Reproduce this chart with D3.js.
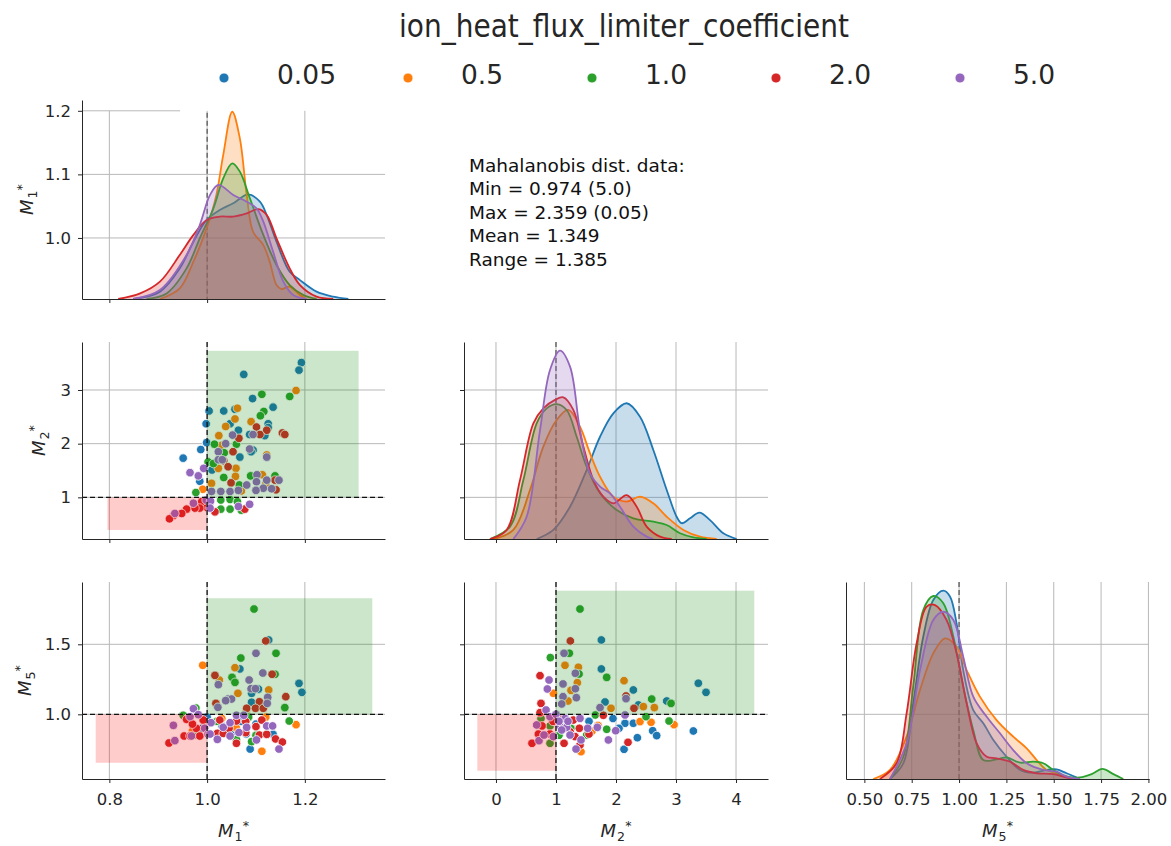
<!DOCTYPE html>
<html>
<head>
<meta charset="utf-8">
<script src="https://cdn.jsdelivr.net/npm/d3@7"></script>
<style>
  body { margin: 0; background: #fff; }
  svg { font-family: "DejaVu Sans", sans-serif; }
</style>
</head>
<body>
<div id="chart"></div>
<script>
// ---- data ----
const groups = ["0.05", "0.5", "1.0", "2.0", "5.0"];
const groupColors = ["#1f77b4", "#ff7f0e", "#2ca02c", "#d62728", "#9467bd"];

const m1Ticks = [0.8, 1.0, 1.2];
const m2Ticks = [0, 1, 2, 3, 4];
const m5Ticks = [0.5, 0.75, 1.0, 1.25, 1.5, 1.75, 2.0];
const m1RowTicks = [1.0, 1.1, 1.2];
const m2RowTicks = [1, 2, 3];
const m5RowTicks = [1.0, 1.5];

const statsLines = ["Mahalanobis dist. data:", "Min = 0.974 (5.0)", "Max = 2.359 (0.05)", "Mean = 1.349", "Range = 1.385"];

// scatter points, one list per group: [x, y]
const m1m2Points = [
  [[1.193,3.51],[1.188,3.37],[1.075,3.29],[1.093,2.84],[1.135,2.68],[1.057,2.64],[1.004,2.61],[1.034,2.61],[0.998,2.37],[1.047,2.37],[1.125,2.37],[1.125,2.30],[1.064,2.25],[1.118,2.15],[1.087,2.17],[0.999,2.02],[0.987,1.89],[1.094,1.88],[0.951,1.73],[1.067,1.75],[1.010,1.51],[0.985,1.30],[1.10,1.40],[1.12,1.20],[1.09,1.85]],
  [[1.182,2.99],[1.062,2.66],[1.057,2.46],[1.038,2.32],[1.090,2.41],[1.024,2.15],[1.030,1.97],[1.122,1.79],[1.023,1.54],[1.059,1.54],[1.058,1.39],[1.113,1.42],[1.009,1.26],[0.991,1.15],[1.07,1.12],[1.12,1.25]],
  [[1.112,2.92],[1.169,2.88],[1.116,2.60],[1.109,2.52],[1.015,1.99],[1.060,1.99],[1.035,1.83],[1.002,1.66],[1.013,1.63],[1.034,1.37],[1.089,1.40],[1.139,1.40],[1.066,1.23],[0.977,1.09],[1.047,0.96],[1.028,0.95],[1.062,0.92],[1.047,0.78],[1.028,0.78],[1.07,0.76]],
  [[1.101,2.31],[1.122,2.25],[1.108,2.17],[1.154,2.20],[1.159,2.17],[1.065,2.10],[1.053,1.85],[1.034,1.68],[1.043,1.57],[1.049,1.27],[1.139,1.32],[1.141,1.14],[0.989,0.92],[1.000,0.81],[0.985,0.80],[0.975,0.80],[1.016,0.73],[0.958,0.78],[0.948,0.70],[0.931,0.66],[0.923,0.60],[1.077,0.78]],
  [[1.052,2.16],[1.094,2.17],[1.038,2.00],[1.087,1.90],[1.023,1.85],[1.122,1.75],[1.023,1.70],[1.031,1.70],[0.993,1.54],[0.965,1.46],[0.982,1.40],[1.102,1.42],[1.122,1.32],[1.147,1.32],[1.101,1.29],[1.081,1.23],[1.132,1.16],[1.115,1.17],[1.100,1.13],[1.009,1.11],[1.028,1.11],[1.047,1.11],[1.064,1.13],[0.998,0.95],[1.007,0.93],[0.972,0.89],[1.006,0.80],[1.064,0.83],[1.087,0.87],[0.934,0.70]]
];

const m1m5Points = [
  [[1.126,1.531],[1.067,1.324],[1.188,1.221],[1.194,1.157],[1.091,1.150],[1.091,1.086],[1.105,1.18],[1.135,0.857],[1.088,0.752],[1.03,0.92],[1.07,0.95],[0.99,0.90],[1.05,0.87],[1.10,0.93],[1.00,0.98],[1.08,0.86]],
  [[0.991,1.35],[1.057,1.333],[1.025,1.245],[1.126,1.174],[1.063,1.15],[1.182,0.926],[1.112,0.736],[1.03,0.97],[1.06,0.90],[1.0,0.93],[0.97,0.88],[1.08,1.02],[1.12,0.98]],
  [[1.096,1.752],[1.141,1.436],[1.069,1.402],[1.139,1.286],[1.051,1.264],[1.057,1.228],[1.159,1.048],[0.977,1.045],[0.951,0.993],[1.168,0.952],[1.091,0.805],[0.98,0.85],[1.04,0.88],[1.06,0.82],[1.02,0.95],[1.10,0.85],[0.96,0.97],[1.085,0.98]],
  [[1.120,1.524],[1.133,1.286],[1.016,1.278],[1.161,1.126],[1.107,1.090],[1.018,1.078],[1.081,1.043],[1.099,1.043],[1.115,1.043],[0.958,0.964],[0.992,0.959],[1.026,0.959],[1.060,0.952],[1.079,0.948],[1.112,0.959],[0.978,0.900],[1.100,0.912],[0.953,0.845],[0.965,0.845],[0.985,0.845],[1.021,0.864],[1.033,0.864],[1.079,0.869],[1.107,0.852],[1.122,0.857],[1.140,0.824],[1.154,0.802],[0.922,0.795],[1.060,0.793],[1.045,0.90],[0.97,0.93]],
  [[1.100,1.436],[1.114,1.295],[1.086,1.245],[1.023,1.212],[1.090,1.183],[1.099,1.183],[1.124,1.121],[1.043,1.109],[1.050,1.109],[1.038,1.098],[1.123,1.078],[1.022,1.050],[0.972,1.040],[0.982,0.998],[0.965,0.983],[1.060,0.993],[1.075,0.993],[1.008,0.940],[0.931,0.921],[0.995,0.900],[1.033,0.907],[1.047,0.940],[1.081,0.907],[1.122,0.917],[1.134,0.917],[0.968,0.845],[1.002,0.859],[1.006,0.859],[1.047,0.845],[1.021,0.821],[1.101,0.817],[0.934,0.812],[1.147,0.752],[1.065,0.87]]
];

const m2m5Points = [
  [[1.756,1.531],[1.756,1.324],[2.289,1.174],[1.817,1.088],[2.845,1.095],[2.373,1.067],[2.15,0.936],[2.289,0.936],[2.611,0.883],[2.678,0.848],[2.356,0.833],[2.134,0.75],[3.372,1.222],[3.5,1.157],[3.289,0.881],[1.55,0.95],[1.95,0.97],[2.05,0.90],[1.70,0.92]],
  [[1.150,1.35],[1.373,1.336],[2.134,1.24],[1.356,1.226],[1.25,1.171],[0.956,1.15],[1.2,1.095],[2.456,1.055],[2.639,1.048],[1.917,1.043],[2.4,0.948],[2.584,0.943],[2.967,0.926],[1.417,0.733],[1.7,0.92],[1.2,0.93],[1.6,0.88]],
  [[1.400,1.752],[1.222,1.436],[0.906,1.405],[1.384,1.288],[1.845,1.264],[2.595,1.109],[2.917,1.078],[2.5,0.983],[1.656,0.995],[2.884,0.952],[1.845,0.893],[0.9,0.917],[0.9,0.793],[1.511,0.852],[1.25,0.90],[1.05,0.85],[0.75,0.97]],
  [[1.239,1.524],[0.734,1.276],[2.167,1.131],[0.75,1.078],[2.3,1.043],[1.789,0.993],[2.2,0.8],[1.55,0.859],[1.389,0.9],[1.134,0.793],[0.6,0.793],[0.734,1.012],[1.039,0.971],[1.289,0.959],[0.767,0.917],[1.234,0.876],[0.706,0.859],[0.9,0.859],[1.317,0.841],[1.4,0.781],[0.95,0.95],[1.15,0.90]],
  [[1.134,1.436],[1.323,1.293],[0.884,1.245],[0.856,1.181],[1.323,1.183],[1.117,1.217],[1.117,1.126],[1.339,1.119],[2.167,1.112],[1.095,1.074],[1.734,1.048],[2.15,0.995],[1.334,0.752],[1.417,0.817],[1.873,0.817],[1.995,0.883],[1.689,0.907],[1.528,0.9],[0.717,0.812],[0.678,0.924],[0.834,1.031],[0.9,0.983],[1.15,0.971],[1.4,0.971],[1.067,0.912],[1.178,0.907],[1.095,0.888],[0.8,0.852],[0.956,0.841],[1.234,0.852],[1.0,1.0],[1.2,0.95],[1.05,0.95]]
];

// KDE curves: [value, density as share of panel height]
const m1Density = [
  [[0.849,0],[0.9035,0.037],[0.944,0.154],[0.972,0.288],[0.999,0.397],[1.026,0.447],[1.0535,0.481],[1.084,0.526],[1.108,0.489],[1.122,0.422],[1.142,0.288],[1.169,0.137],[1.190,0.095],[1.224,0.037],[1.258,0.012],[1.289,0]],
  [[0.9035,0],[0.944,0.054],[0.972,0.188],[0.999,0.355],[1.019,0.523],[1.033,0.724],[1.0514,0.941],[1.067,0.807],[1.081,0.523],[1.094,0.338],[1.115,0.271],[1.128,0.188],[1.142,0.070],[1.152,0.050],[1.169,0.062],[1.190,0.020],[1.203,0]],
  [[0.876,0],[0.917,0.028],[0.958,0.154],[0.985,0.305],[1.013,0.456],[1.033,0.606],[1.0514,0.682],[1.067,0.640],[1.0875,0.506],[1.115,0.322],[1.142,0.171],[1.169,0.070],[1.197,0.020],[1.224,0]],
  [[0.818,0],[0.863,0.028],[0.9035,0.087],[0.944,0.221],[0.972,0.322],[0.999,0.397],[1.026,0.414],[1.0535,0.414],[1.081,0.430],[1.105,0.452],[1.122,0.422],[1.142,0.305],[1.169,0.154],[1.190,0.070],[1.224,0.012],[1.258,0]],
  [[0.849,0],[0.9035,0.045],[0.958,0.221],[0.985,0.372],[1.006,0.523],[1.023,0.573],[1.0535,0.523],[1.081,0.489],[1.101,0.456],[1.115,0.389],[1.135,0.238],[1.156,0.087],[1.176,0.020],[1.203,0]]
];

const m2Density = [
  [[0.678,0],[0.956,0.046],[1.234,0.164],[1.511,0.350],[1.734,0.519],[1.956,0.638],[2.178,0.689],[2.4,0.621],[2.622,0.452],[2.845,0.249],[3.011,0.113],[3.095,0.080],[3.234,0.105],[3.39,0.134],[3.567,0.096],[3.789,0.029],[4.011,0]],
  [[-0.044,0],[0.289,0.046],[0.567,0.249],[0.789,0.469],[1.011,0.604],[1.206,0.655],[1.4,0.570],[1.567,0.435],[1.734,0.316],[1.956,0.215],[2.178,0.190],[2.4,0.215],[2.622,0.181],[2.845,0.113],[3.123,0.046],[3.4,0.012],[3.678,0]],
  [[-0.1,0],[0.234,0.063],[0.456,0.299],[0.678,0.587],[0.845,0.663],[1.011,0.685],[1.178,0.655],[1.345,0.519],[1.511,0.367],[1.734,0.232],[2.011,0.147],[2.289,0.105],[2.622,0.088],[2.845,0.071],[3.067,0.029],[3.289,0.008],[3.511,0]],
  [[-0.1,0],[0.178,0.046],[0.4,0.299],[0.623,0.587],[0.789,0.663],[0.984,0.706],[1.123,0.719],[1.289,0.655],[1.456,0.469],[1.623,0.299],[1.789,0.215],[1.956,0.181],[2.178,0.223],[2.345,0.164],[2.511,0.063],[2.734,0.012],[2.928,0]],
  [[0.289,0],[0.511,0.113],[0.734,0.553],[0.9,0.858],[1.067,0.956],[1.234,0.875],[1.4,0.553],[1.567,0.333],[1.734,0.266],[1.9,0.232],[2.067,0.164],[2.289,0.063],[2.511,0.012],[2.622,0]]
];

const m5Density = [
  [[0.635,0],[0.706,0.080],[0.758,0.384],[0.811,0.722],[0.864,0.909],[0.917,0.956],[0.952,0.926],[0.987,0.790],[1.022,0.553],[1.075,0.350],[1.128,0.283],[1.181,0.198],[1.251,0.113],[1.322,0.046],[1.392,0.032],[1.462,0.046],[1.515,0.049],[1.568,0.029],[1.638,0]],
  [[0.547,0],[0.635,0.046],[0.723,0.215],[0.794,0.452],[0.864,0.638],[0.926,0.714],[0.987,0.672],[1.040,0.553],[1.110,0.418],[1.198,0.299],[1.286,0.215],[1.357,0.156],[1.410,0.096],[1.462,0.046],[1.533,0.025],[1.603,0.003],[1.638,0]],
  [[0.635,0],[0.706,0.113],[0.758,0.469],[0.811,0.858],[0.864,0.929],[0.917,0.892],[0.970,0.722],[1.022,0.469],[1.075,0.249],[1.128,0.096],[1.198,0.100],[1.251,0.110],[1.322,0.083],[1.392,0.088],[1.445,0.080],[1.498,0.046],[1.568,0.012],[1.638,0.008],[1.700,0.025],[1.756,0.051],[1.815,0.025],[1.867,0]],
  [[0.582,0],[0.670,0.080],[0.723,0.333],[0.776,0.689],[0.829,0.875],[0.873,0.883],[0.934,0.807],[0.987,0.638],[1.040,0.384],[1.093,0.181],[1.146,0.113],[1.198,0.105],[1.269,0.088],[1.339,0.046],[1.410,0.029],[1.498,0.025],[1.550,0.012],[1.603,0]],
  [[0.635,0],[0.723,0.181],[0.794,0.553],[0.864,0.807],[0.917,0.849],[0.970,0.807],[1.022,0.621],[1.075,0.418],[1.146,0.316],[1.216,0.232],[1.286,0.147],[1.357,0.080],[1.445,0.046],[1.515,0.037],[1.568,0.012],[1.638,0]]
];

// shaded target boxes [x0, x1, y0, y1]
const m1m2Good = [1.0, 1.31, 1.0, 3.73];
const m1m2Bad = [0.796, 1.0, 0.392, 1.0];
const m1m5Good = [1.0, 1.338, 1.0, 1.829];
const m1m5Bad = [0.772, 1.0, 0.654, 1.0];
const m2m5Good = [1.0, 4.305, 1.0, 1.883];
const m2m5Bad = [-0.311, 1.0, 0.597, 1.0];

// ---- layout ----
const svgWidth = 1171, svgHeight = 846;
const colLeft = [82, 464, 846], colRight = [385, 768, 1149];
const rowTop = [100, 342, 582], rowBottom = [299, 539, 779];
const xDomains = [[0.744, 1.364], [-0.533, 4.533], [0.403, 2.003]];
const yDomains = [[0.904, 1.217], [0.224, 3.894], [0.538, 1.945]];
const xTickSets = [m1Ticks, m2Ticks, m5Ticks];
const yTickSets = [m1RowTicks, m2RowTicks, m5RowTicks];
const xFormats = [d3.format(".1f"), d3.format("d"), d3.format(".2f")];
const yFormats = [d3.format(".1f"), d3.format("d"), d3.format(".1f")];
const axisSubs = ["1", "2", "5"];
const yLabelX = [33, 45, 31];
const legendFrameLeft = 180;
const ink = "#262626";
const gridColor = "#b8b8b8";

let svg = d3.select("#chart").append("svg")
  .attr("width", svgWidth)
  .attr("height", svgHeight);

let xScales = xDomains.map((d, c) => d3.scaleLinear().domain(d).range([colLeft[c], colRight[c]]));
let yScales = yDomains.map((d, r) => d3.scaleLinear().domain(d).range([rowBottom[r], rowTop[r]]));

//Grid lines for one panel
function drawGrid(row, col) {
  let x = xScales[col], y = yScales[row];
  let g = svg.append("g").attr("stroke", gridColor).attr("stroke-width", 1);
  let vTop = row === 0 ? y(1.2) : rowTop[row];
  xTickSets[col].forEach(t => {
    g.append("line").attr("x1", x(t)).attr("x2", x(t)).attr("y1", vTop).attr("y2", rowBottom[row]);
  });
  yTickSets[row].forEach(t => {
    let x2 = (row === 0 && t === 1.2) ? legendFrameLeft : colRight[col];
    g.append("line").attr("x1", colLeft[col]).attr("x2", x2).attr("y1", y(t)).attr("y2", y(t));
  });
}

//Spines and ticks for one panel
function drawAxes(row, col, showX, showY) {
  let x = xScales[col], y = yScales[row];
  let gx = svg.append("g")
    .attr("transform", `translate(0, ${rowBottom[row]})`)
    .call(d3.axisBottom(x).tickValues(xTickSets[col])
      .tickFormat(showX ? xFormats[col] : () => "")
      .tickSize(4).tickSizeOuter(0).tickPadding(10));
  let gy = svg.append("g")
    .attr("transform", `translate(${colLeft[col]}, 0)`)
    .call(d3.axisLeft(y).tickValues(yTickSets[row])
      .tickFormat(showY ? yFormats[row] : () => "")
      .tickSize(4).tickSizeOuter(0).tickPadding(7));
  [gx, gy].forEach(g => {
    g.attr("color", ink).attr("font-family", "DejaVu Sans").attr("font-size", 16.5);
    g.selectAll("path, line").attr("stroke-width", 1);
  });
}

//Dashed reference lines at 1
function drawRefLines(row, col, horizontal, top, stroke, width) {
  let x = xScales[col], y = yScales[row];
  svg.append("line")
    .attr("x1", x(1)).attr("x2", x(1)).attr("y1", top).attr("y2", rowBottom[row])
    .attr("stroke", stroke).attr("stroke-width", width).attr("stroke-dasharray", "5,3");
  if (horizontal) {
    svg.append("line")
      .attr("x1", colLeft[col]).attr("x2", colRight[col]).attr("y1", y(1)).attr("y2", y(1))
      .attr("stroke", stroke).attr("stroke-width", width).attr("stroke-dasharray", "5,3");
  }
}

//Scatter panel with the two shaded boxes
function drawScatter(row, col, points, good, bad) {
  let x = xScales[col], y = yScales[row];
  drawGrid(row, col);
  points.forEach((list, i) => {
    svg.append("g").selectAll("circle")
      .data(list)
      .enter()
      .append("circle")
      .attr("cx", d => x(d[0]))
      .attr("cy", d => y(d[1]))
      .attr("r", 4.3)
      .attr("fill", groupColors[i])
      .attr("stroke", "#fff")
      .attr("stroke-width", 0.8);
  });
  [[good, "green"], [bad, "red"]].forEach(([b, c]) => {
    svg.append("rect")
      .attr("x", x(b[0])).attr("width", x(b[1]) - x(b[0]))
      .attr("y", y(b[3])).attr("height", y(b[2]) - y(b[3]))
      .attr("fill", c).attr("fill-opacity", 0.2);
  });
  drawRefLines(row, col, true, rowTop[row], "#111", 1.3);
}

//Diagonal KDE panel
function drawKde(idx, densities) {
  let x = xScales[idx];
  let dens = d3.scaleLinear().domain([0, 1]).range([rowBottom[idx], rowTop[idx]]);
  drawGrid(idx, idx);
  let top = idx === 0 ? yScales[0](1.2) + 2 : rowTop[idx];
  drawRefLines(idx, idx, false, top, "#333", 1);
  let clipId = "clip" + idx;
  svg.append("clipPath").attr("id", clipId).append("rect")
    .attr("x", colLeft[idx]).attr("y", rowTop[idx] - 5)
    .attr("width", colRight[idx] - colLeft[idx]).attr("height", rowBottom[idx] - rowTop[idx] + 5);
  let area = d3.area().curve(d3.curveCatmullRom.alpha(0.5))
    .x(d => x(d[0])).y0(dens(0)).y1(d => dens(d[1]));
  let line = d3.line().curve(d3.curveCatmullRom.alpha(0.5))
    .x(d => x(d[0])).y(d => dens(d[1]));
  let g = svg.append("g").attr("clip-path", `url(#${clipId})`);
  densities.forEach((curve, i) => {
    g.append("path").attr("d", area(curve))
      .attr("fill", groupColors[i]).attr("fill-opacity", 0.25);
    g.append("path").attr("d", line(curve))
      .attr("fill", "none").attr("stroke", groupColors[i]).attr("stroke-width", 1.8);
  });
}

//Axis label like M_1^*
function mathLabel(x, y, sub, rotate) {
  let t = svg.append("text")
    .attr("x", x).attr("y", y)
    .attr("text-anchor", "middle")
    .attr("font-size", 18)
    .attr("fill", ink);
  if (rotate) t.attr("transform", `rotate(-90, ${x}, ${y})`);
  t.append("tspan").attr("font-style", "italic").text("M");
  t.append("tspan").attr("font-size", 12.6).attr("dx", 1).attr("dy", 4).text(sub);
  t.append("tspan").attr("font-size", 12.6).attr("dx", 0).attr("dy", -11).text("*");
}

// ---- panels ----
drawKde(0, m1Density);
drawAxes(0, 0, false, true);

drawScatter(1, 0, m1m2Points, m1m2Good, m1m2Bad);
drawAxes(1, 0, false, true);
drawKde(1, m2Density);
drawAxes(1, 1, false, false);

drawScatter(2, 0, m1m5Points, m1m5Good, m1m5Bad);
drawAxes(2, 0, true, true);
drawScatter(2, 1, m2m5Points, m2m5Good, m2m5Bad);
drawAxes(2, 1, true, false);
drawKde(2, m5Density);
drawAxes(2, 2, true, false);

// axis labels
[0, 1, 2].forEach(c => mathLabel((colLeft[c] + colRight[c]) / 2, 836.5, axisSubs[c], false));
[0, 1, 2].forEach(r => mathLabel(yLabelX[r], (rowTop[r] + rowBottom[r]) / 2, axisSubs[r], true));

// Mahalanobis text block
svg.append("g").selectAll("text")
  .data(statsLines)
  .enter()
  .append("text")
  .attr("x", 469)
  .attr("y", (d, i) => 171.5 + i * 23.5)
  .attr("font-size", 18.5)
  .attr("fill", "#111")
  .text(d => d);

// ---- legend ----
svg.append("text")
  .attr("x", 624).attr("y", 37)
  .attr("text-anchor", "middle")
  .attr("font-size", 32)
  .attr("textLength", 450)
  .attr("lengthAdjust", "spacingAndGlyphs")
  .attr("fill", ink)
  .text("ion_heat_flux_limiter_coefficient");

let legendX = d3.scalePoint().domain(groups).range([224, 960]);
let legend = svg.append("g").selectAll("g")
  .data(groups)
  .enter()
  .append("g")
  .attr("transform", d => `translate(${legendX(d)}, 78)`);
legend.append("circle")
  .attr("r", 5)
  .attr("fill", (d, i) => groupColors[i])
  .attr("stroke", "#fff")
  .attr("stroke-width", 0.8);
legend.append("text")
  .attr("x", 53).attr("y", 6)
  .attr("font-size", 26.5)
  .attr("fill", ink)
  .text(d => d);
</script>
</body>
</html>
